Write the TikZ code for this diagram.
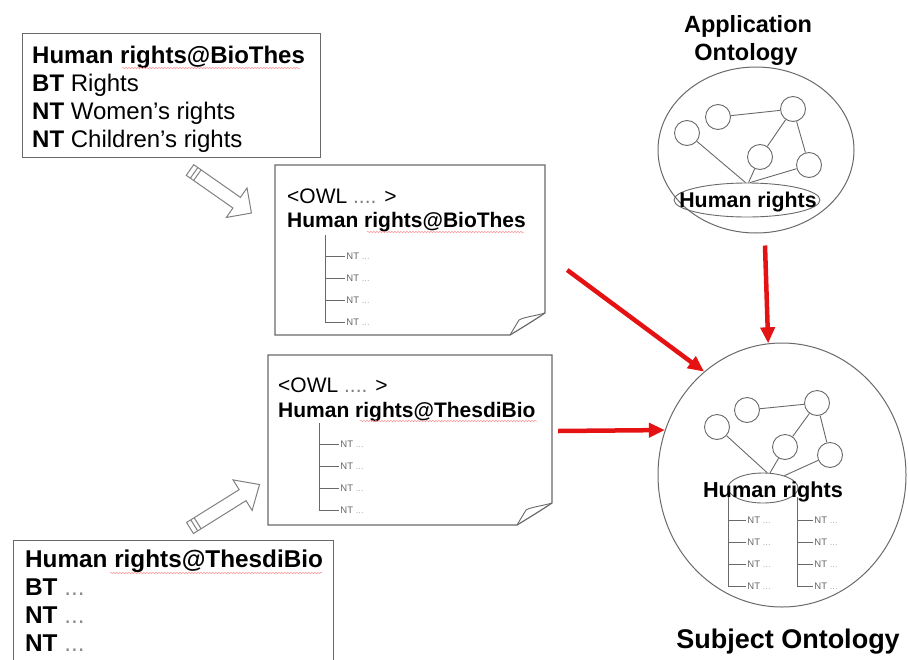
\documentclass[tikz,border=0pt]{standalone}
\usepackage{fontspec}
\setmainfont{Liberation Sans}
\usepackage{xcolor}
\usetikzlibrary{arrows.meta,shapes.geometric,decorations.pathmorphing}
\definecolor{arrowred}{RGB}{228,18,18}
\definecolor{linegray}{RGB}{105,105,105}

\begin{document}
\begin{tikzpicture}[x=1pt,y=-1pt,
    frame/.style={draw=linegray,line width=1.2pt},
    txt/.style={anchor=base west,inner sep=0pt},
    boxtxt/.style={txt,font=\fontsize{24}{28}\selectfont},
    doctxt/.style={txt,font=\fontsize{21}{25}\selectfont},
    nt/.style={anchor=west,inner sep=1pt,font=\fontsize{9.5}{9.5}\selectfont,text=black!60},
    concept/.style={circle,draw=linegray,line width=0.9pt,minimum size=25pt,inner sep=0pt},
    link/.style={draw=linegray,line width=0.9pt},
    redarrow/.style={draw=arrowred,line width=4.5pt,-{Triangle[length=16pt,width=14pt]}},
    hollow/.style={draw=black!50,line width=1pt},
    squiggle/.style={draw=red!45,line width=0.5pt,decorate,decoration={snake,amplitude=0.6pt,segment length=3pt}}
  ]
  \useasboundingbox (0,0) rectangle (908,659);

  % thesaurus entry BioThes
  \node[frame,anchor=north west,minimum width=298pt,minimum height=124pt,inner sep=0pt] (biothes) at (22,33) {};
  \node[boxtxt] (bt1) at (32,63) {\textbf{Human rights@BioThes}};
  \node[boxtxt] (bt2) at (32,91) {\textbf{BT} Rights};
  \node[boxtxt] (bt3) at (32,119) {\textbf{NT} Women's rights};
  \node[boxtxt] (bt4) at (32,147) {\textbf{NT} Children's rights};
  \draw[squiggle] (122,68) -- (300,68);

  % thesaurus entry ThesdiBio (runs off the bottom)
  \node[frame,anchor=north west,minimum width=320pt,minimum height=135pt,inner sep=0pt] (thesdibio) at (13,540) {};
  \node[boxtxt,font=\fontsize{24.3}{28}\selectfont] (tt1) at (25,567) {\textbf{Human rights@ThesdiBio}};
  \node[boxtxt,font=\fontsize{24.3}{28}\selectfont] (tt2) at (25,595) {\textbf{BT} {\color{black!45}...}};
  \node[boxtxt,font=\fontsize{24.3}{28}\selectfont] (tt3) at (25,623) {\textbf{NT} {\color{black!45}...}};
  \node[boxtxt,font=\fontsize{24.3}{28}\selectfont] (tt4) at (25,651) {\textbf{NT} {\color{black!45}...}};
  \draw[squiggle] (110,573) -- (322,573);

  % OWL documents
  \node[minimum width=270pt,minimum height=170pt,inner sep=0pt] (owl1) at (410,250) {};
  \draw[frame] (275,165) -- (545,165) -- (545,313) .. controls (533,321) and (520,329) .. (510,335) -- (275,335) -- cycle;
  \draw[frame,line width=0.9pt] (545,313) .. controls (535,316) and (524,317) .. (519,320) .. controls (516,325) and (513,330) .. (510,335);
  \node[doctxt] (o1a) at (287,203) {<OWL {\color{black!50}....} >};
  \node[doctxt] (o1b) at (287,227) {\textbf{Human rights@BioThes}};
  \draw[squiggle] (367,232) -- (524,232);
  \draw[link] (325,235) -- (325,322);
  \foreach \y in {256,278,300,322}
    \draw[link] (325,\y) -- (345,\y) node[nt] (o1nt\y) {NT {\color{black!30}...}};

  \node[minimum width=284pt,minimum height=170pt,inner sep=0pt] (owl2) at (410,440) {};
  \draw[frame] (268,355) -- (552,355) -- (552,503) .. controls (540,511) and (527,519) .. (517,525) -- (268,525) -- cycle;
  \draw[frame,line width=0.9pt] (552,503) .. controls (542,506) and (531,507) .. (526,510) .. controls (523,515) and (520,520) .. (517,525);
  \node[doctxt] (o2a) at (278,392) {<OWL {\color{black!50}....} >};
  \node[doctxt] (o2b) at (278,417) {\textbf{Human rights@ThesdiBio}};
  \draw[squiggle] (360,421) -- (537,421);
  \draw[link] (319,423) -- (319,510);
  \foreach \y in {444,466,488,510}
    \draw[link] (319,\y) -- (339,\y) node[nt] (o2nt\y) {NT {\color{black!30}...}};

  % hollow conversion arrows
  \coordinate (h1) at (190,170);
  \begin{scope}[shift={(h1)},rotate=-35]
    \draw[hollow] (0,-6.5) -- (57,-6.5) -- (57,-18) -- (75,0) -- (57,18) -- (57,6.5) -- (0,6.5) -- cycle;
    \draw[hollow] (5,-6.5) -- (5,6.5) (9,-6.5) -- (9,6.5);
  \end{scope}
  \coordinate (h2) at (190,528);
  \begin{scope}[shift={(h2)},rotate=32]
    \draw[hollow] (0,-6.5) -- (62,-6.5) -- (62,-18) -- (82,0) -- (62,18) -- (62,6.5) -- (0,6.5) -- cycle;
    \draw[hollow] (5,-6.5) -- (5,6.5) (9,-6.5) -- (9,6.5);
  \end{scope}

  % application ontology
  \node[anchor=base,inner sep=0pt,font=\fontsize{23.5}{26}\selectfont\bfseries] (applbl) at (748,32) {Application};
  \node[anchor=base,inner sep=0pt,font=\fontsize{23.5}{26}\selectfont\bfseries] (applbl2) at (746,60) {Ontology};
  \node[ellipse,draw=linegray,line width=1pt,minimum width=196pt,minimum height=166pt,inner sep=0pt] (app) at (756,150) {};
  \node[concept] (a1) at (687,133) {};
  \node[concept] (a2) at (718,117) {};
  \node[concept] (a3) at (793,109) {};
  \node[concept] (a4) at (760,157) {};
  \node[concept] (a5) at (809,165) {};
  \node[ellipse,draw=linegray,line width=0.9pt,minimum width=146pt,minimum height=34pt,inner sep=0pt] (apphr) at (747,200) {};
  \draw[link] (a2) -- (a3);
  \draw[link] (a3) -- (a4);
  \draw[link] (a3) -- (a5);
  \draw[link] (a1) -- (apphr.95);
  \draw[link] (a4) -- (apphr.85);
  \draw[link] (a5) -- (apphr.80);
  \node[anchor=base,inner sep=0pt,font=\fontsize{21.3}{24}\selectfont\bfseries] (apphrtxt) at (748,207) {Human rights};

  % subject ontology
  \node[ellipse,draw=linegray,line width=1pt,minimum width=248pt,minimum height=264pt,inner sep=0pt] (subject) at (782,475) {};
  \node[concept] (s1) at (717,427) {};
  \node[concept] (s2) at (747,410) {};
  \node[concept] (s3) at (817,403) {};
  \node[concept] (s4) at (785,447) {};
  \node[concept] (s5) at (830,455) {};
  \node[ellipse,draw=linegray,line width=0.9pt,minimum width=70pt,minimum height=30pt,inner sep=0pt] (subjhr) at (763,488) {};
  \draw[link] (s2) -- (s3);
  \draw[link] (s3) -- (s4);
  \draw[link] (s3) -- (s5);
  \draw[link] (s1) -- (subjhr.75);
  \draw[link] (s4) -- (subjhr.65);
  \draw[link] (s5) -- (subjhr.30);
  \node[anchor=base,inner sep=0pt,font=\fontsize{21.7}{24}\selectfont\bfseries] (subjhrtxt) at (773,497) {Human rights};
  \draw[link] (728,497) -- (728,586);
  \draw[link] (797,497) -- (797,586);
  \foreach \y in {520,542,564,586} {
    \draw[link] (728,\y) -- (746,\y) node[nt] (snl\y) {NT {\color{black!30}...}};
    \draw[link] (797,\y) -- (813,\y) node[nt] (snr\y) {NT {\color{black!30}...}};
  }
  \node[anchor=base,inner sep=0pt,font=\fontsize{27}{30}\selectfont\bfseries] (subjlbl) at (788,648) {Subject Ontology};

  % mapping arrows
  \draw[redarrow] ([xshift=22pt,yshift=-20pt]owl1.east) -- (subject.127);
  \draw[redarrow] ([xshift=6pt,yshift=9pt]owl2.east) -- (subject.159);
  \draw[redarrow] ([xshift=9pt,yshift=-12pt]app.south) -- (subject.96);
\end{tikzpicture}
\end{document}
